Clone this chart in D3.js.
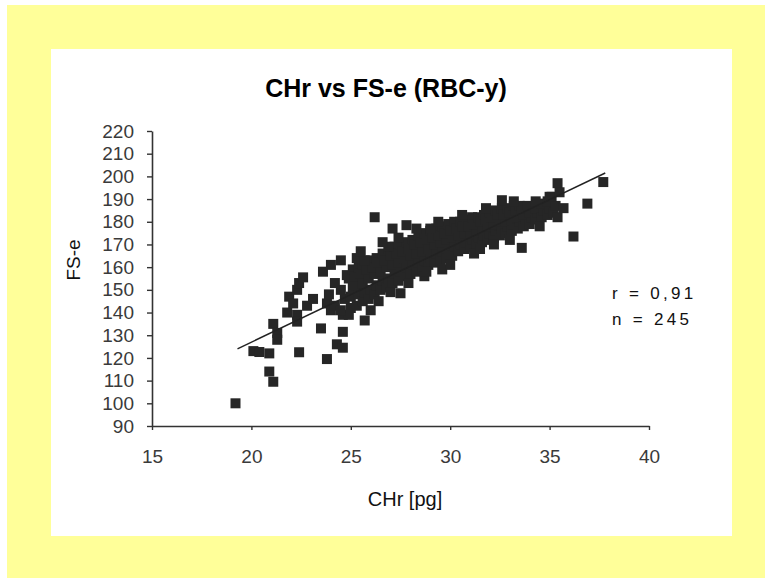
<!DOCTYPE html>
<html lang="en">
<head>
<meta charset="utf-8">
<style type="text/css">
    body { margin: 0; background: #ffffff; }
    .tick_text { font-family: "Liberation Sans", Arial, sans-serif; fill: #3a3a3a; }
    .title_text { font-family: "Liberation Sans", Arial, sans-serif; font-size: 25px; font-weight: bold; fill: #000; }
    .label_text { font-family: "Liberation Sans", Arial, sans-serif; fill: #111; }
    .stat_text { font-family: "Liberation Sans", Arial, sans-serif; font-size: 17px; letter-spacing: 3.3px; fill: #111; }
</style>
</head>
<body>
<div id="graph"></div>
<script src="https://cdn.jsdelivr.net/npm/d3@7"></script>
<script type="text/javascript">
// CHr [pg] vs FS-e, one square per sample
var pointsLow = [
    [19.2,100],[20.1,123],[20.4,122.6],[20.9,122],[20.9,114],[21.1,109.5],[21.1,135],[21.3,131],
    [21.3,128],[21.8,140],[21.9,147],[22.1,144],[22.3,139],[22.3,136],[22.4,122.5],[22.3,150],
    [22.4,153],[22.6,155.5],[22.8,143],[23.1,146],[23.5,133],[23.8,119.5],[23.8,144],[24.0,141],
    [24.2,143],[24.3,126],[24.6,124.5],[24.6,131.5],[24.6,139],[24.9,139],[24.5,141],[24.0,161],
    [24.5,163],[24.8,156.5],[24.5,150],[24.2,153],[23.9,148],[24.7,146],[23.6,158],[25.7,136.5]
];
var pointsBand = [
    [25.0,142],[25.0,147],[25.1,151],[24.9,155],[25.1,159],
    [25.3,143],[25.4,148],[25.3,152],[25.2,156],[25.4,160],
    [25.6,145],[25.7,149],[25.6,153],[25.5,157],[25.6,161],
    [25.9,146],[26.0,150],[25.9,155],[25.8,159],[26.0,163],
    [26.2,148],[26.3,152],[26.2,157],[26.1,160],[26.3,164],
    [26.5,150],[26.6,154],[26.5,158],[26.4,162],[26.6,166],
    [26.8,151],[26.9,155],[26.8,160],[26.7,163],[26.9,168],
    [27.1,153],[27.2,157],[27.1,161],[27.0,165],[27.2,169],
    [27.4,154],[27.5,158],[27.4,162],[27.3,166],[27.5,170],
    [27.7,156],[27.8,160],[27.7,164],[27.6,167],[27.8,171],
    [28.0,157],[28.1,161],[28.0,165],[27.9,168],[28.1,172],
    [28.3,158],[28.4,162],[28.3,166],[28.2,170],[28.4,174],
    [28.6,159],[28.7,163],[28.6,167],[28.5,171],[28.7,175],
    [28.9,161],[29.0,164],[28.9,168],[28.8,172],[29.0,176],
    [29.2,162],[29.3,166],[29.2,170],[29.1,173],[29.3,177],
    [29.5,163],[29.6,167],[29.5,171],[29.4,174],[29.6,178],
    [29.8,164],[29.9,168],[29.8,172],[29.7,175],[29.9,179],
    [30.1,165],[30.2,169],[30.1,173],[30.0,176],[30.2,180],
    [30.4,167],[30.5,170],[30.4,174],[30.3,177],[30.5,180],
    [30.7,168],[30.8,171],[30.7,175],[30.6,178],[30.8,181],
    [31.0,169],[31.1,172],[31.0,175],[30.9,178],[31.1,182],
    [31.3,170],[31.4,173],[31.3,176],[31.2,179],[31.4,182],
    [31.6,171],[31.7,174],[31.6,177],[31.5,180],[31.7,183],
    [31.9,172],[32.0,175],[31.9,178],[31.8,181],[32.0,184],
    [32.2,173],[32.3,176],[32.2,179],[32.1,182],[32.3,185],
    [32.5,174],[32.6,177],[32.5,180],[32.4,183],[32.6,186],
    [32.8,175],[32.9,178],[32.8,180],[32.7,183],[32.9,186],
    [33.1,176],[33.2,179],[33.1,181],[33.0,184],[33.2,187],
    [33.4,177],[33.5,180],[33.4,182],[33.3,185],[33.5,187],
    [33.7,178],[33.8,181],[33.7,183],[33.6,186],
    [34.0,179],[34.1,182],[34.0,184],[33.9,187],
    [34.3,181],[34.4,184],[34.3,186],
    [34.6,182],[34.7,185],[34.6,188],
    [34.9,183],[35.0,186],[34.9,189],
    [35.2,184],[35.3,187],[35.1,191]
];
var pointsHigh = [
    [26.2,182],[26.9,169],[27.1,177],[27.8,178.5],[29.0,177],[27.5,148.5],[28.7,156],[29.6,159],
    [33.6,168.5],[36.2,173.5],[36.9,188],[37.7,197.5],[35.4,197],[35.5,193],[35.4,182],[35.0,191],
    [32.6,189.5],[33.2,189],[34.3,189],[35.7,186],[25.3,164],[25.7,163],
    [26.0,141],[26.4,145],[27.0,149],[27.9,153],[28.8,158],[30.0,161],[31.2,166],[32.2,170],
    [29.4,180],[30.6,183],[31.8,186],[28.3,177],[27.4,173],[26.6,171],[25.5,167],[33.0,172],
    [34.5,178],[31.5,168]
];
var trendX = [19.3, 37.8];
var trendY = [124, 201.5];
var xTicks = [15, 20, 25, 30, 35, 40];
var yTicks = [90, 100, 110, 120, 130, 140, 150, 160, 170, 180, 190, 200, 210, 220];

var points = pointsLow.concat(pointsBand, pointsHigh);

var W = 765, H = 578;
var svg = d3.select("#graph").append("svg")
    .attr("width", W)
    .attr("height", H);

svg.append("rect").attr("x", 7).attr("y", 5).attr("width", W - 7).attr("height", H - 5)
    .style("fill", "#ffff99");
svg.append("rect").attr("x", 51).attr("y", 49).attr("width", 681).attr("height", 487)
    .style("fill", "#ffffff");

var x = d3.scaleLinear().domain([15, 40]).range([152, 649]);
var y = d3.scaleLinear().domain([90, 220]).range([426, 131]);

// axes
var xAxis = svg.append("g")
    .attr("transform", "translate(0," + y(90) + ")")
    .call(d3.axisBottom(x).tickValues(xTicks).tickSize(4).tickSizeOuter(0).tickPadding(20));
var yAxis = svg.append("g")
    .attr("transform", "translate(" + x(15) + ",0)")
    .call(d3.axisLeft(y).tickValues(yTicks).tickSize(5).tickSizeOuter(0).tickPadding(13));

[xAxis, yAxis].forEach(function(g){
    g.select(".domain").style("stroke", "#333").style("stroke-width", 1.6);
    g.selectAll(".tick line").style("stroke", "#333").style("stroke-width", 1.4);
    g.selectAll(".tick text").attr("class", "tick_text").style("font-size", "19px");
});

// points
svg.append("g").selectAll("rect")
    .data(points)
    .enter()
    .append("rect")
    .attr("x", function(d){ return x(d[0]) - 5; })
    .attr("y", function(d){ return y(d[1]) - 5; })
    .attr("width", 10)
    .attr("height", 10)
    .style("fill", "#262626");

// trend line
var trend = trendX.map(function(v, i){ return [v, trendY[i]]; });
svg.append("path")
    .datum(trend)
    .attr("d", d3.line().x(function(d){ return x(d[0]); }).y(function(d){ return y(d[1]); }))
    .style("fill", "none")
    .style("stroke", "#222")
    .style("stroke-width", 1.5);

// texts
svg.append("text").attr("class", "title_text")
    .attr("x", 386).attr("y", 97).attr("text-anchor", "middle")
    .text("CHr vs FS-e (RBC-y)");

svg.append("text").attr("class", "label_text")
    .attr("x", 405).attr("y", 506).attr("text-anchor", "middle")
    .style("font-size", "20px")
    .text("CHr [pg]");

svg.append("text").attr("class", "label_text")
    .attr("transform", "translate(80,260) rotate(-90)")
    .attr("text-anchor", "middle")
    .style("font-size", "19px")
    .text("FS-e");

svg.append("text").attr("class", "stat_text")
    .attr("x", 612).attr("y", 299)
    .text("r = 0,91");
svg.append("text").attr("class", "stat_text")
    .attr("x", 612).attr("y", 325)
    .text("n = 245");
</script>
</body>
</html>
